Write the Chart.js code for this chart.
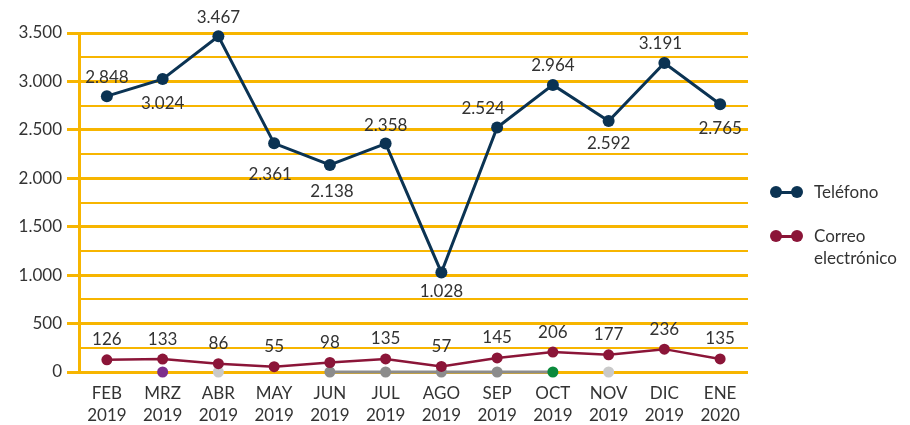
<!DOCTYPE html>
<html lang="es">
<head>
<meta charset="utf-8">
<title>Teléfono y correo electrónico</title>
<script src="https://cdn.jsdelivr.net/npm/chart.js@4/dist/chart.umd.min.js"></script>
<style>
  html, body { margin: 0; padding: 0; background: #fff; }
  #wrap { position: relative; width: 910px; height: 425px; }
  #chart { position: absolute; left: 0; top: 0; }
  .legend { position: absolute; left: 770px; top: 0; font: 17px Lato, 'Open Sans', sans-serif; color: #333; }
  .legend-item { position: absolute; left: 0; white-space: nowrap; }
  .legend-item .mark { position: absolute; left: 0; width: 33px; height: 12px; }
  .legend-item .mark i { position: absolute; top: 5px; left: 6px; width: 21px; height: 3px; }
  .legend-item .mark b { position: absolute; top: 0; width: 12px; height: 12px; border-radius: 50%; }
  .legend-item .text { position: absolute; left: 44px; line-height: 22px; }
</style>
</head>
<body>
<div id="wrap">
  <canvas id="chart" width="910" height="425"></canvas>
  <div class="legend" id="legend"></div>
</div>
<script>
(function() {
  'use strict';

  var FONT = "Lato, 'Open Sans', sans-serif";

  // Month categories (two lines each)
  var months = [
    ['FEB', '2019'], ['MRZ', '2019'], ['ABR', '2019'], ['MAY', '2019'],
    ['JUN', '2019'], ['JUL', '2019'], ['AGO', '2019'], ['SEP', '2019'],
    ['OCT', '2019'], ['NOV', '2019'], ['DIC', '2019'], ['ENE', '2020']
  ];

  var telefono = [2848, 3024, 3467, 2361, 2138, 2358, 1028, 2524, 2964, 2592, 3191, 2765];
  var correo = [126, 133, 86, 55, 98, 135, 57, 145, 206, 177, 236, 135];

  // Unlabelled markers sitting on the baseline
  var baseMarks = [null, 0, 0, null, 0, 0, 0, 0, 0, 0, null, null];

  var yTicks = [0, 500, 1000, 1500, 2000, 2500, 3000, 3500];

  var COLORS = {
    tel: '#0B3353',
    mail: '#8B1538',
    grid: '#F7B500',
    text: '#333333',
    grey: '#8C8C8C',
    lightGrey: '#C9C9C9',
    purple: '#7D2E8C',
    green: '#0B8A3C'
  };

  var baseColors = [null, COLORS.purple, COLORS.lightGrey, null, COLORS.grey, COLORS.grey,
    COLORS.grey, COLORS.grey, COLORS.green, COLORS.lightGrey, null, null];

  // label placement around each point [dx, dy]
  var telLabelPos = [[0, -19], [0, 24], [0, -19], [-4, 31], [2, 27], [0, -18],
    [0, 19], [-14, -19], [0, -19], [0, 23], [-4, -19], [0, 24]];
  var mailLabelPos = correo.map(function() { return [0, -20]; });

  function formatNum(n) {
    return String(n).replace(/\B(?=(\d{3})+(?!\d))/g, '.');
  }

  var valueLabels = {
    id: 'valueLabels',
    afterDatasetsDraw: function(chart) {
      var ctx = chart.ctx;
      chart.data.datasets.forEach(function(ds, i) {
        if (!ds.labelPos) return;
        var meta = chart.getDatasetMeta(i);
        ctx.save();
        ctx.font = '17px ' + FONT;
        ctx.fillStyle = COLORS.text;
        ctx.textAlign = 'center';
        ctx.textBaseline = 'middle';
        meta.data.forEach(function(pt, j) {
          var v = ds.data[j];
          if (v === null || v === undefined) return;
          var off = ds.labelPos[j];
          ctx.fillText(formatNum(v), pt.x + off[0], pt.y + off[1]);
        });
        ctx.restore();
      });
    }
  };

  var datasets = [
    {
      label: 'Teléfono',
      data: telefono,
      borderColor: COLORS.tel,
      backgroundColor: COLORS.tel,
      borderWidth: 3,
      pointRadius: 6,
      pointBorderWidth: 0,
      pointBackgroundColor: COLORS.tel,
      tension: 0,
      clip: false,
      labelPos: telLabelPos,
      legendText: ['Teléfono']
    },
    {
      label: 'Correo electrónico',
      data: correo,
      borderColor: COLORS.mail,
      backgroundColor: COLORS.mail,
      borderWidth: 2.5,
      pointRadius: 5.5,
      pointBorderWidth: 0,
      pointBackgroundColor: COLORS.mail,
      tension: 0,
      clip: false,
      labelPos: mailLabelPos,
      legendText: ['Correo', 'electrónico']
    },
    {
      label: 'base',
      data: baseMarks,
      borderWidth: 3,
      pointRadius: 5.5,
      pointBorderWidth: 0,
      pointBackgroundColor: baseColors,
      spanGaps: false,
      clip: false,
      segment: {
        borderColor: function(ctx) {
          return (ctx.p0DataIndex >= 4 && ctx.p1DataIndex <= 8) ? COLORS.grey : 'rgba(0,0,0,0)';
        }
      }
    }
  ];

  new Chart(document.getElementById('chart').getContext('2d'), {
    type: 'line',
    data: { labels: months, datasets: datasets },
    plugins: [valueLabels],
    options: {
      responsive: false,
      animation: false,
      devicePixelRatio: 1,
      layout: { padding: { left: 0, right: 162, top: 33, bottom: 0 } },
      plugins: {
        legend: { display: false },
        tooltip: { enabled: false }
      },
      scales: {
        x: {
          offset: true,
          grid: { display: false, drawTicks: false },
          border: { display: false },
          ticks: {
            color: COLORS.text,
            font: { family: FONT, size: 17, lineHeight: 1.3 },
            padding: 10,
            maxRotation: 0,
            autoSkip: false
          },
          afterFit: function(scale) { scale.height = 53; }
        },
        y: {
          min: 0,
          max: 3500,
          afterBuildTicks: function(scale) {
            var list = [];
            for (var v = 0; v <= 3500; v += 250) list.push({ value: v });
            scale.ticks = list;
          },
          grid: {
            color: COLORS.grid,
            lineWidth: function(ctx) { return yTicks.indexOf(ctx.tick.value) >= 0 ? 3 : 2; },
            tickColor: function(ctx) { return yTicks.indexOf(ctx.tick.value) >= 0 ? COLORS.grid : 'rgba(0,0,0,0)'; },
            tickLength: 12
          },
          border: { display: true, color: COLORS.grid, width: 3 },
          ticks: {
            color: COLORS.text,
            font: { family: FONT, size: 17 },
            padding: 5,
            callback: function(v) { return yTicks.indexOf(v) >= 0 ? formatNum(v) : ''; }
          },
          afterFit: function(scale) { scale.width = 79; }
        }
      }
    }
  });

  // Legend on the right
  var legend = document.getElementById('legend');
  var legendTops = [192, 236];
  datasets.filter(function(ds) { return ds.legendText; }).forEach(function(ds, i) {
    var item = document.createElement('div');
    item.className = 'legend-item';
    item.style.top = legendTops[i] + 'px';
    var c = ds.borderColor;
    item.innerHTML =
      '<span class="mark" style="top:-6px">' +
        '<i style="background:' + c + '"></i>' +
        '<b style="left:0;background:' + c + '"></b>' +
        '<b style="left:21px;background:' + c + '"></b>' +
      '</span>' +
      '<span class="text" style="top:-11px">' + ds.legendText.join('<br>') + '</span>';
    legend.appendChild(item);
  });
})();
</script>
</body>
</html>
